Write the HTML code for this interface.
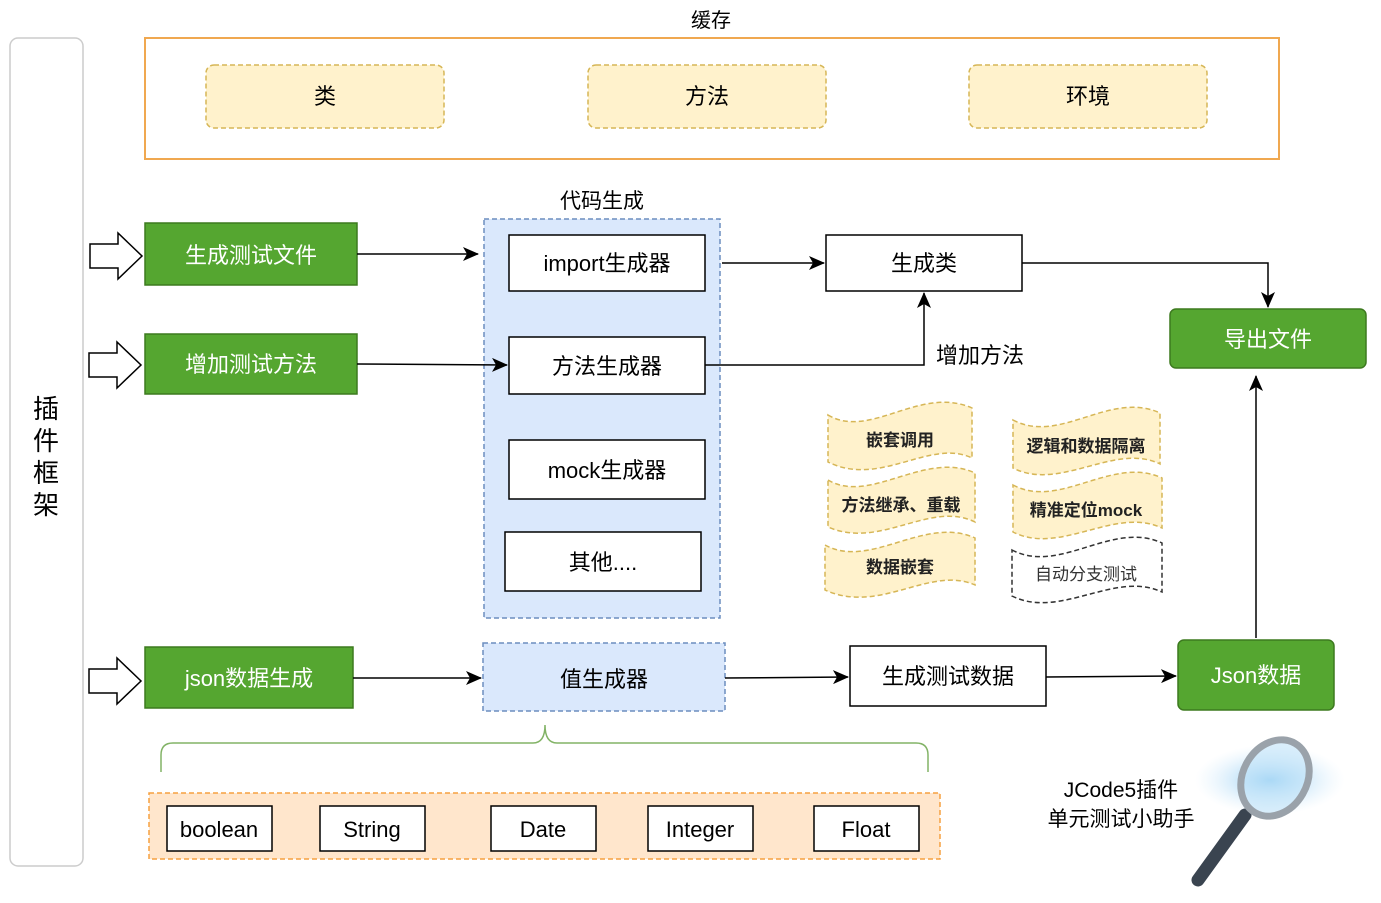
<!DOCTYPE html>
<html><head><meta charset="utf-8"><style>
html,body{margin:0;padding:0;background:#fff;}
svg{display:block;font-family:"Liberation Sans","Noto Sans CJK SC",sans-serif;}
</style></head><body>
<svg width="1381" height="903" viewBox="0 0 1381 903" xmlns="http://www.w3.org/2000/svg">
<defs>
<marker id="a" markerWidth="16" markerHeight="14" refX="15" refY="7" orient="auto" markerUnits="userSpaceOnUse"><path d="M0,0 L16,7 L0,14 L4,7 Z" fill="#000"/></marker>
<radialGradient id="glow" cx="0.5" cy="0.5" r="0.5"><stop offset="0" stop-color="#7ec3f0" stop-opacity="0.9"/><stop offset="1" stop-color="#cfe9fb" stop-opacity="0"/></radialGradient>
</defs>
<rect x="10" y="38" width="73" height="828" rx="8" fill="#fff" stroke="#ccc" stroke-width="1.5"/>
<g font-size="26" fill="#000" text-anchor="middle"><text x="46" y="418">插</text><text x="46" y="450">件</text><text x="46" y="482">框</text><text x="46" y="514">架</text></g>
<text x="711" y="27" font-size="20" text-anchor="middle">缓存</text>
<rect x="145" y="38" width="1134" height="121" fill="#fff" stroke="#f0a850" stroke-width="2"/>
<g fill="#fff2cc" stroke="#d6b656" stroke-width="1.5" stroke-dasharray="5,3">
<rect x="206" y="65" width="238" height="63" rx="8"/><rect x="588" y="65" width="238" height="63" rx="8"/><rect x="969" y="65" width="238" height="63" rx="8"/></g>
<g font-size="22" text-anchor="middle"><text x="325" y="104">类</text><text x="707" y="104">方法</text><text x="1088" y="104">环境</text></g>
<g fill="#fff" stroke="#000" stroke-width="1.5">
<path d="M90,244 L118,244 L118,233 L142,256 L118,279 L118,268 L90,268 Z"/>
<path d="M89,353 L117,353 L117,342 L141,365 L117,388 L117,377 L89,377 Z"/>
<path d="M89,669 L117,669 L117,658 L141,681 L117,704 L117,693 L89,693 Z"/></g>
<g fill="#55a630" stroke="#3d7a1f" stroke-width="1.5">
<rect x="145" y="223" width="212" height="62"/><rect x="145" y="334" width="212" height="60"/><rect x="145" y="647" width="208" height="61"/>
<rect x="1170" y="309" width="196" height="59" rx="6"/><rect x="1178" y="640" width="156" height="70" rx="6"/></g>
<g font-size="22" fill="#fff" text-anchor="middle"><text x="251" y="263">生成测试文件</text><text x="251" y="372">增加测试方法</text><text x="249" y="686">json数据生成</text><text x="1268" y="347">导出文件</text><text x="1256" y="683">Json数据</text></g>
<text x="602" y="208" font-size="21" text-anchor="middle">代码生成</text>
<rect x="484" y="219" width="236" height="399" fill="#dae8fc" stroke="#6c8ebf" stroke-width="1.5" stroke-dasharray="5,3"/>
<rect x="483" y="643" width="242" height="68" fill="#dae8fc" stroke="#6c8ebf" stroke-width="1.5" stroke-dasharray="5,3"/>
<g fill="#fff" stroke="#000" stroke-width="1.5">
<rect x="509" y="235" width="196" height="56"/><rect x="509" y="337" width="196" height="57"/><rect x="509" y="440" width="196" height="59"/><rect x="505" y="532" width="196" height="59"/>
<rect x="826" y="235" width="196" height="56"/><rect x="850" y="646" width="196" height="60"/></g>
<g font-size="22" text-anchor="middle"><text x="607" y="271">import生成器</text><text x="607" y="374">方法生成器</text><text x="607" y="478">mock生成器</text><text x="603" y="570">其他....</text>
<text x="924" y="271">生成类</text><text x="948" y="684">生成测试数据</text><text x="604" y="687">值生成器</text><text x="980" y="363">增加方法</text></g>
<g stroke="#000" stroke-width="1.5" fill="none" marker-end="url(#a)">
<path d="M357,254 L478,254"/><path d="M357,364 L507,365"/><path d="M353,678 L481,678"/>
<path d="M722,263 L824,263"/><path d="M1022,263 L1268,263 L1268,307"/>
<path d="M705,365 L924,365 L924,293"/>
<path d="M725,678 L848,677"/><path d="M1046,677 L1176,676"/><path d="M1256,638 L1256,376"/></g>
<g fill="#fff2cc" stroke="#d6b656" stroke-width="1.5" stroke-dasharray="5,3">
<path d="M828,415 C870,440 920,385 972,408 L972,458 C930,438 880,488 828,462 Z"/>
<path d="M828,480 C870,505 925,450 975,473 L975,522 C930,500 880,550 828,527 Z"/>
<path d="M825,545 C870,570 925,515 975,538 L975,585 C930,565 880,615 825,590 Z"/>
<path d="M1013,420 C1060,445 1110,390 1160,413 L1160,464 C1115,442 1060,492 1013,468 Z"/>
<path d="M1013,485 C1060,510 1112,455 1162,478 L1162,528 C1115,506 1060,556 1013,532 Z"/>
</g>
<path d="M1012,550 C1060,575 1112,520 1162,543 L1162,592 C1115,570 1060,620 1012,596 Z" fill="#fff" stroke="#333" stroke-width="1.5" stroke-dasharray="5,3"/>
<g font-size="17" text-anchor="middle" font-weight="bold" fill="#222"><text x="900" y="446">嵌套调用</text><text x="901" y="511">方法继承、重载</text><text x="900" y="573">数据嵌套</text>
<text x="1086" y="452">逻辑和数据隔离</text><text x="1086" y="516">精准定位mock</text><text x="1086" y="580" font-weight="normal" fill="#333">自动分支测试</text></g>
<path d="M161,772 L161,755 Q161,743 173,743 L533,743 Q545,743 545,725 Q545,743 557,743 L916,743 Q928,743 928,755 L928,772" fill="none" stroke="#82b366" stroke-width="1.5"/>
<rect x="149" y="793" width="791" height="66" fill="#ffe6cc" stroke="#f5a040" stroke-width="1.5" stroke-dasharray="5,3"/>
<g fill="#fff" stroke="#000" stroke-width="1.5">
<rect x="167" y="806" width="105" height="45"/><rect x="320" y="806" width="105" height="45"/><rect x="491" y="806" width="105" height="45"/><rect x="648" y="806" width="105" height="45"/><rect x="814" y="806" width="105" height="45"/></g>
<g font-size="22" text-anchor="middle"><text x="219" y="837">boolean</text><text x="372" y="837">String</text><text x="543" y="837">Date</text><text x="700" y="837">Integer</text><text x="866" y="837">Float</text></g>
<ellipse cx="1270" cy="780" rx="75" ry="35" fill="url(#glow)"/>
<line x1="1245" y1="815" x2="1198" y2="880" stroke="#3a4450" stroke-width="13" stroke-linecap="round"/>
<ellipse cx="1275" cy="778" rx="32" ry="40" transform="rotate(30 1275 778)" fill="#bfe2f8" fill-opacity="0.6" stroke="#9aa2aa" stroke-width="7"/>
<g font-size="21" text-anchor="middle"><text x="1121" y="797">JCode5插件</text><text x="1121" y="826">单元测试小助手</text></g>
</svg>
</body></html>
